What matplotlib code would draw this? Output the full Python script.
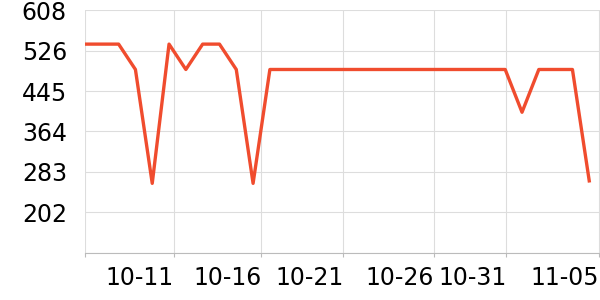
import numpy as np
import matplotlib
matplotlib.use("Agg")
import matplotlib.pyplot as plt

# valeurs (un point par jour)
values = [540, 540, 540, 489, 260, 540, 489, 540, 540, 489, 260,
          489, 489, 489, 489, 489, 489, 489, 489, 489, 489, 489,
          489, 489, 489, 489, 403, 489, 489, 489, 265]
tick_pos = [0, 5.29, 10.49, 15.37, 20.78, 25.06, 30.58]
tick_labels = ["", "10-11", "10-16", "10-21", "10-26", "10-31", "11-05"]
y_min, y_max = 121, 608

x = np.arange(len(values))

fig = plt.figure(figsize=(6, 3), dpi=100)
ax = fig.add_axes([85 / 600, 47.5 / 300, 515 / 600, 242.2 / 300])

ax.plot(x, values, color="#f04c2e", linewidth=2.4)

ax.set_xlim(0, 30.64)
ax.set_ylim(y_min, y_max)

yt = np.linspace(y_min, y_max, 7)
ax.set_yticks(yt)
ax.set_yticklabels([""] + [str(int(v)) for v in yt[1:]])
ax.set_xticks(tick_pos)
ax.set_xticklabels(tick_labels)
for lab in ax.get_xticklabels():
    lab.set_horizontalalignment("right")

ax.grid(True, color="#dddddd", linewidth=0.8)
ax.set_axisbelow(True)
for s in ["left", "right", "top"]:
    ax.spines[s].set_visible(False)
ax.spines["bottom"].set_color("#bbbbbb")
ax.spines["bottom"].set_linewidth(0.8)

ax.tick_params(axis="y", length=0, pad=13, labelsize=17)
ax.tick_params(axis="x", length=3, color="#bbbbbb", pad=7, labelsize=17)

fig.savefig("out.png", dpi=100)
